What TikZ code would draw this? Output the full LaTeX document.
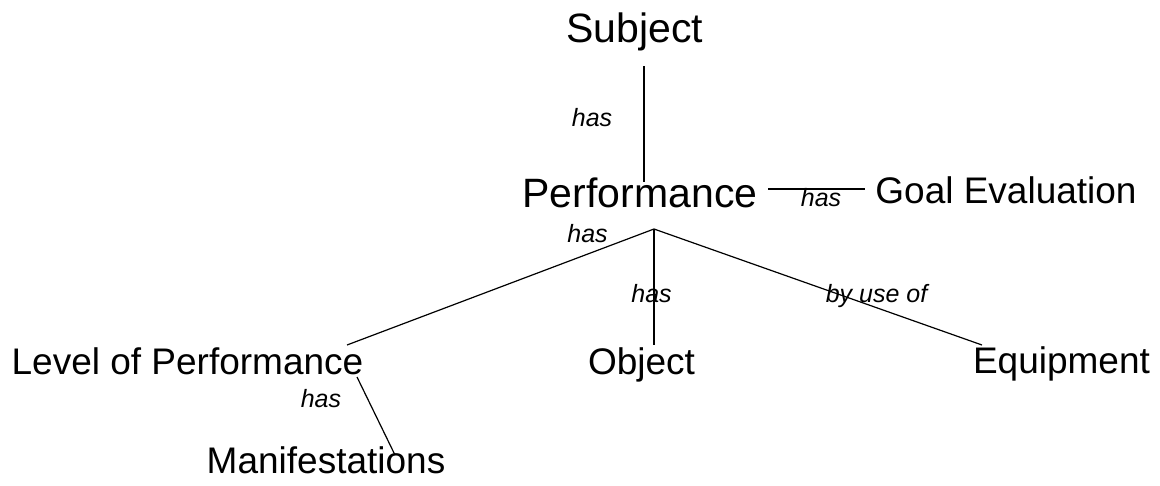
\documentclass[tikz,border=0pt]{standalone}
\usepackage{fontspec}
\setmainfont{Liberation Sans}
\usetikzlibrary{calc}

\tikzset{
    big/.style={inner sep=0pt, anchor=base, font=\fontsize{41}{49}\selectfont},
    item/.style={inner sep=0pt, anchor=base, font=\fontsize{37}{44}\selectfont},
    rel/.style={inner sep=0pt, anchor=base, font=\fontsize{25}{30}\selectfont\itshape},
    link/.style={line width=1.2pt}
}

\begin{document}
\begin{tikzpicture}[x=1pt, y=-1pt]
                \useasboundingbox (0,0) rectangle (1160,485);

                \node[big] (subj) at (635,42) {Subject};
                \node[big] (perf) at (640,207) {Performance};
                \node[item] (goal) at (1006,203) {Goal Evaluation};
                \node[item] (lvl) at (187.5,374) {Level of Performance};
                \node[item] (obj) at (641.5,374) {Object};
                \node[item] (equip) at (1061.5,373) {Equipment};
                \node[item] (manif) at (326,473) {Manifestations};

                \node[rel] (hasA) at (592,126) {has};
                \node[rel] (hasB) at (821,206) {has};
                \node[rel] (hasC) at (587.5,242) {has};
                \node[rel] (hasD) at (651.5,302) {has};
                \node[rel] (byuse) at (876.5,302) {by use of};
                \node[rel] (hasE) at (321,407) {has};

                \coordinate (fork) at ($(perf.base)+(14,22)$);

                \draw[link] ($(subj.base)+(9,24)$) -- ($(perf.base)+(4,-25)$);
                \draw[link] ($(perf.base)+(128,-18)$) -- ($(goal.base)+(-141,-14)$);
                \draw[link] (fork) -- ($(lvl.base)+(159.5,-29)$);
                \draw[link] (fork) -- ($(obj.base)+(12.5,-29)$);
                \draw[link] (fork) -- ($(equip.base)+(-79.5,-28)$);
                \draw[link] ($(lvl.base)+(169.5,3)$) -- ($(manif.base)+(69,-18)$);
            \end{tikzpicture}
\end{document}
